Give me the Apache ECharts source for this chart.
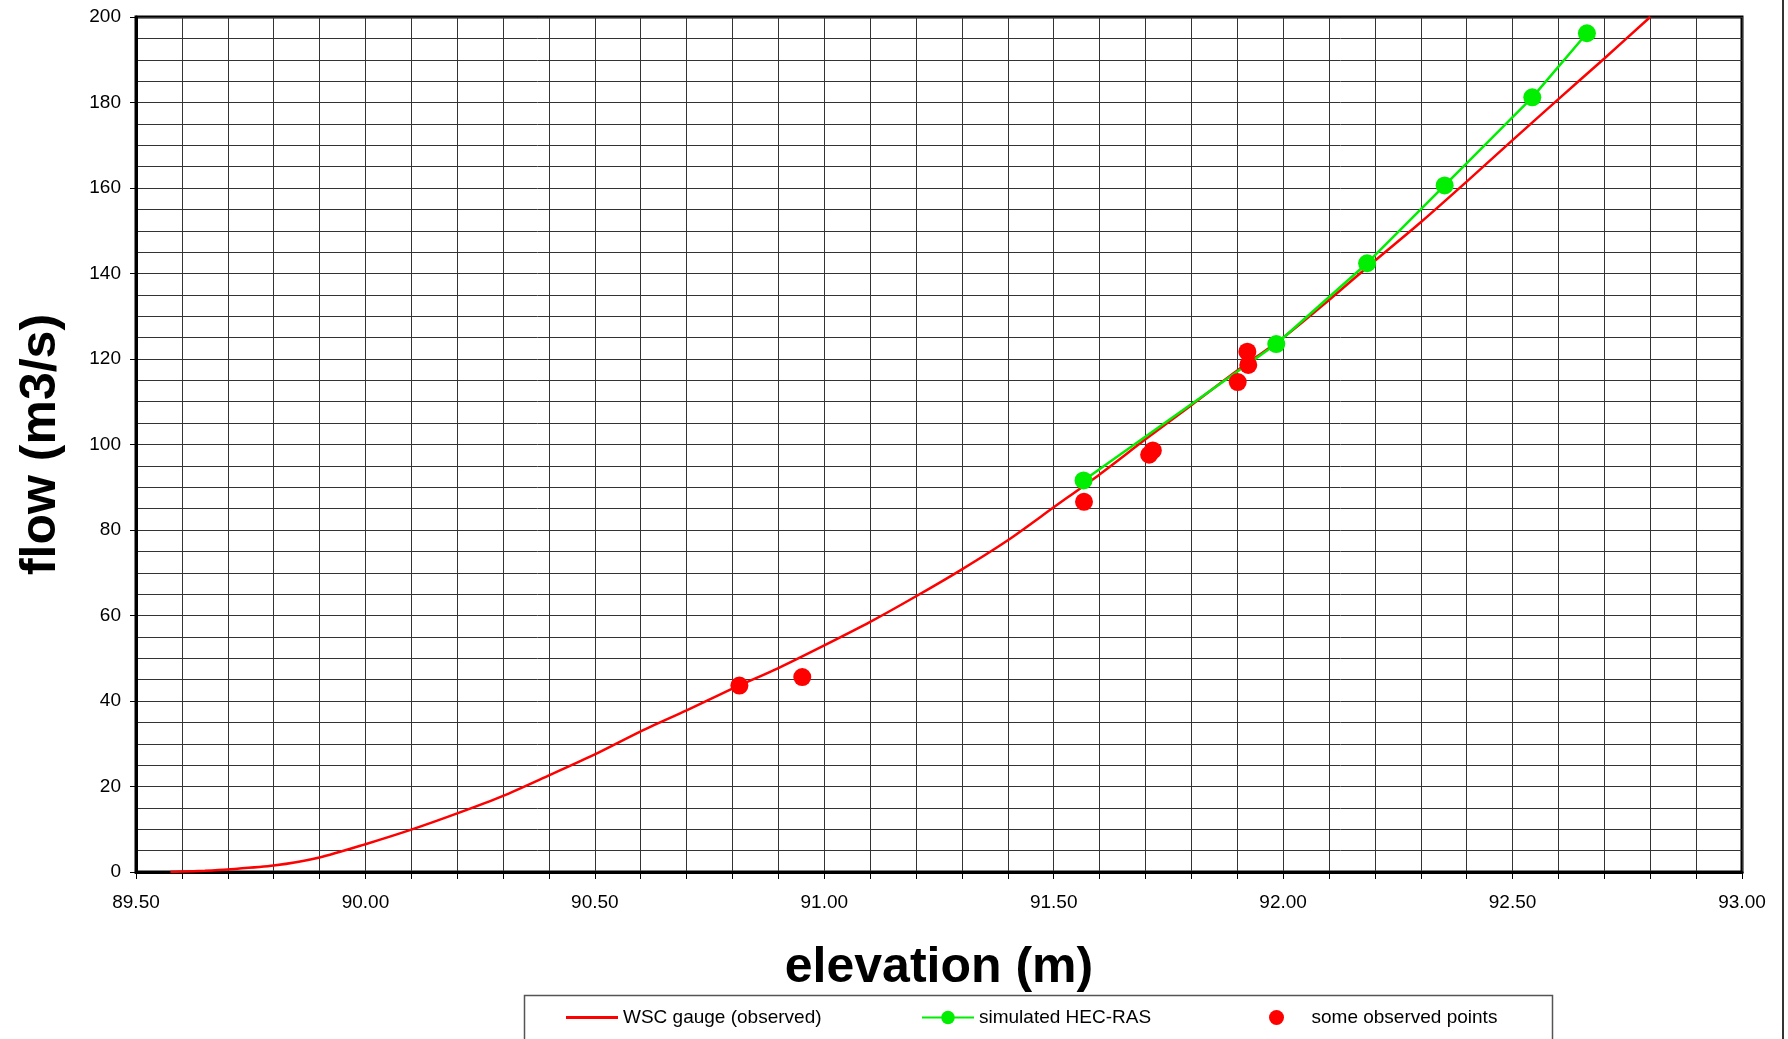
<!DOCTYPE html>
<html>
<head>
<meta charset="utf-8">
<script src="https://cdn.jsdelivr.net/npm/echarts@6/dist/echarts.min.js"></script>
<style>
html,body{margin:0;padding:0;background:#fff;}
#chart{width:1788px;height:1039px;}
</style>
</head>
<body>
<div id="chart"></div>
<script>
// Rating curve (WSC gauge, observed)
const ratingElev = [89.575, 89.6, 89.65, 89.7, 89.8, 89.9, 90.0, 90.1, 90.2, 90.3, 90.4, 90.5, 90.6, 90.7, 90.8, 90.9, 91.0, 91.1, 91.2, 91.3, 91.4, 91.5, 91.6, 91.7, 91.8, 91.9, 92.0, 92.1, 92.2, 92.3, 92.4, 92.5, 92.6, 92.7, 92.8];
const ratingFlow = [0, 0.1, 0.3, 0.6, 1.5, 3.4, 6.5, 9.9, 13.7, 17.8, 22.6, 27.5, 32.9, 37.8, 42.9, 47.7, 53.0, 58.5, 64.5, 70.8, 77.6, 85.3, 93.0, 101.2, 109.2, 117.3, 125.0, 133.8, 143.0, 152.0, 161.5, 171.2, 180.8, 190.3, 200.0];
// Simulated HEC-RAS
const simElev = [91.565, 91.985, 92.183, 92.352, 92.543, 92.662];
const simFlow = [91.6, 123.5, 142.4, 160.6, 181.2, 196.2];
// Some observed points
const obsElev = [90.815, 90.952, 91.566, 91.708, 91.716, 91.901, 91.924, 91.922];
const obsFlow = [43.6, 45.6, 86.6, 97.6, 98.6, 114.6, 118.6, 121.7];

const seriesNames = ['WSC gauge (observed)', 'simulated HEC-RAS', 'some observed points'];
const xTitle = 'elevation (m)';
const yTitle = 'flow (m3/s)';

const zip = (a, b) => a.map((v, i) => [v, b[i]]);
const FONT = '"Liberation Sans", Arial, sans-serif';

const chart = echarts.init(document.getElementById('chart'), null, {renderer: 'canvas'});
const gridLine = {show: true, lineStyle: {color: '#333', width: 1}};

chart.setOption({
  animation: false,
  backgroundColor: '#fff',
  textStyle: {fontFamily: FONT},
  grid: {left: 136, right: 46, top: 17, bottom: 167, show: true, borderColor: '#000', borderWidth: 3, backgroundColor: 'transparent'},
  xAxis: {
    type: 'value', min: 89.5, max: 93.0, interval: 0.5,
    name: xTitle, nameLocation: 'middle', nameGap: 71,
    nameTextStyle: {fontSize: 50, fontWeight: 'bold', color: '#000', fontFamily: FONT},
    axisLine: {show: true, onZero: false, lineStyle: {color: '#000', width: 3}},
    axisTick: {show: true, length: 7, lineStyle: {color: '#000', width: 1}},
    minorTick: {show: true, splitNumber: 5, length: 7, lineStyle: {color: '#000', width: 1}},
    axisLabel: {fontSize: 19, color: '#000', margin: 21, fontFamily: FONT, formatter: v => v.toFixed(2)},
    splitLine: gridLine,
    minorSplitLine: gridLine
  },
  yAxis: {
    type: 'value', min: 0, max: 200, interval: 20,
    name: yTitle, nameLocation: 'middle', nameGap: 70, nameRotate: 90,
    nameTextStyle: {fontSize: 50, fontWeight: 'bold', color: '#000', fontFamily: FONT},
    axisLine: {show: true, onZero: false, lineStyle: {color: '#000', width: 3}},
    axisTick: {show: true, length: 6, lineStyle: {color: '#000', width: 1}},
    minorTick: {show: false, splitNumber: 4},
    axisLabel: {fontSize: 19, color: '#000', margin: 15, fontFamily: FONT},
    splitLine: gridLine,
    minorSplitLine: gridLine
  },
  legend: [
    {data: [{name: seriesNames[0], icon: 'rect'}], left: 566, top: 1008, padding: 0, itemWidth: 52, itemHeight: 3,
     textStyle: {fontSize: 19, color: '#000', fontFamily: FONT}},
    {data: [seriesNames[1]], left: 921, top: 1008, padding: 0, itemWidth: 52, itemHeight: 17,
     textStyle: {fontSize: 19, color: '#000', fontFamily: FONT}},
    {data: [seriesNames[2]], left: 1269, top: 1008, padding: 0, itemWidth: 60, itemHeight: 15,
     textStyle: {fontSize: 19, color: '#000', fontFamily: FONT}}
  ],
  graphic: [
    {type: 'rect', left: 522, top: 993, silent: true,
     shape: {width: 1028, height: 60}, style: {fill: 'none', stroke: '#555', lineWidth: 1.5}},
    {type: 'line', silent: true, shape: {x1: 1783, y1: 0, x2: 1783, y2: 1039},
     style: {stroke: '#333', lineWidth: 2}}
  ],
  series: [
    {name: seriesNames[0], type: 'line', data: zip(ratingElev, ratingFlow), symbol: 'none', showSymbol: false,
     smooth: 0.25,
     lineStyle: {color: '#ff0000', width: 2.5}, itemStyle: {color: '#ff0000'}, z: 3},
    {name: seriesNames[1], type: 'line', data: zip(simElev, simFlow), symbol: 'circle', symbolSize: 18,
     lineStyle: {color: '#00ee00', width: 2.5}, itemStyle: {color: '#00ee00'}, z: 4},
    {name: seriesNames[2], type: 'scatter', data: zip(obsElev, obsFlow), symbol: 'circle', symbolSize: 18,
     itemStyle: {color: '#ff0000', opacity: 1}, z: 5}
  ]
});
</script>
</body>
</html>
